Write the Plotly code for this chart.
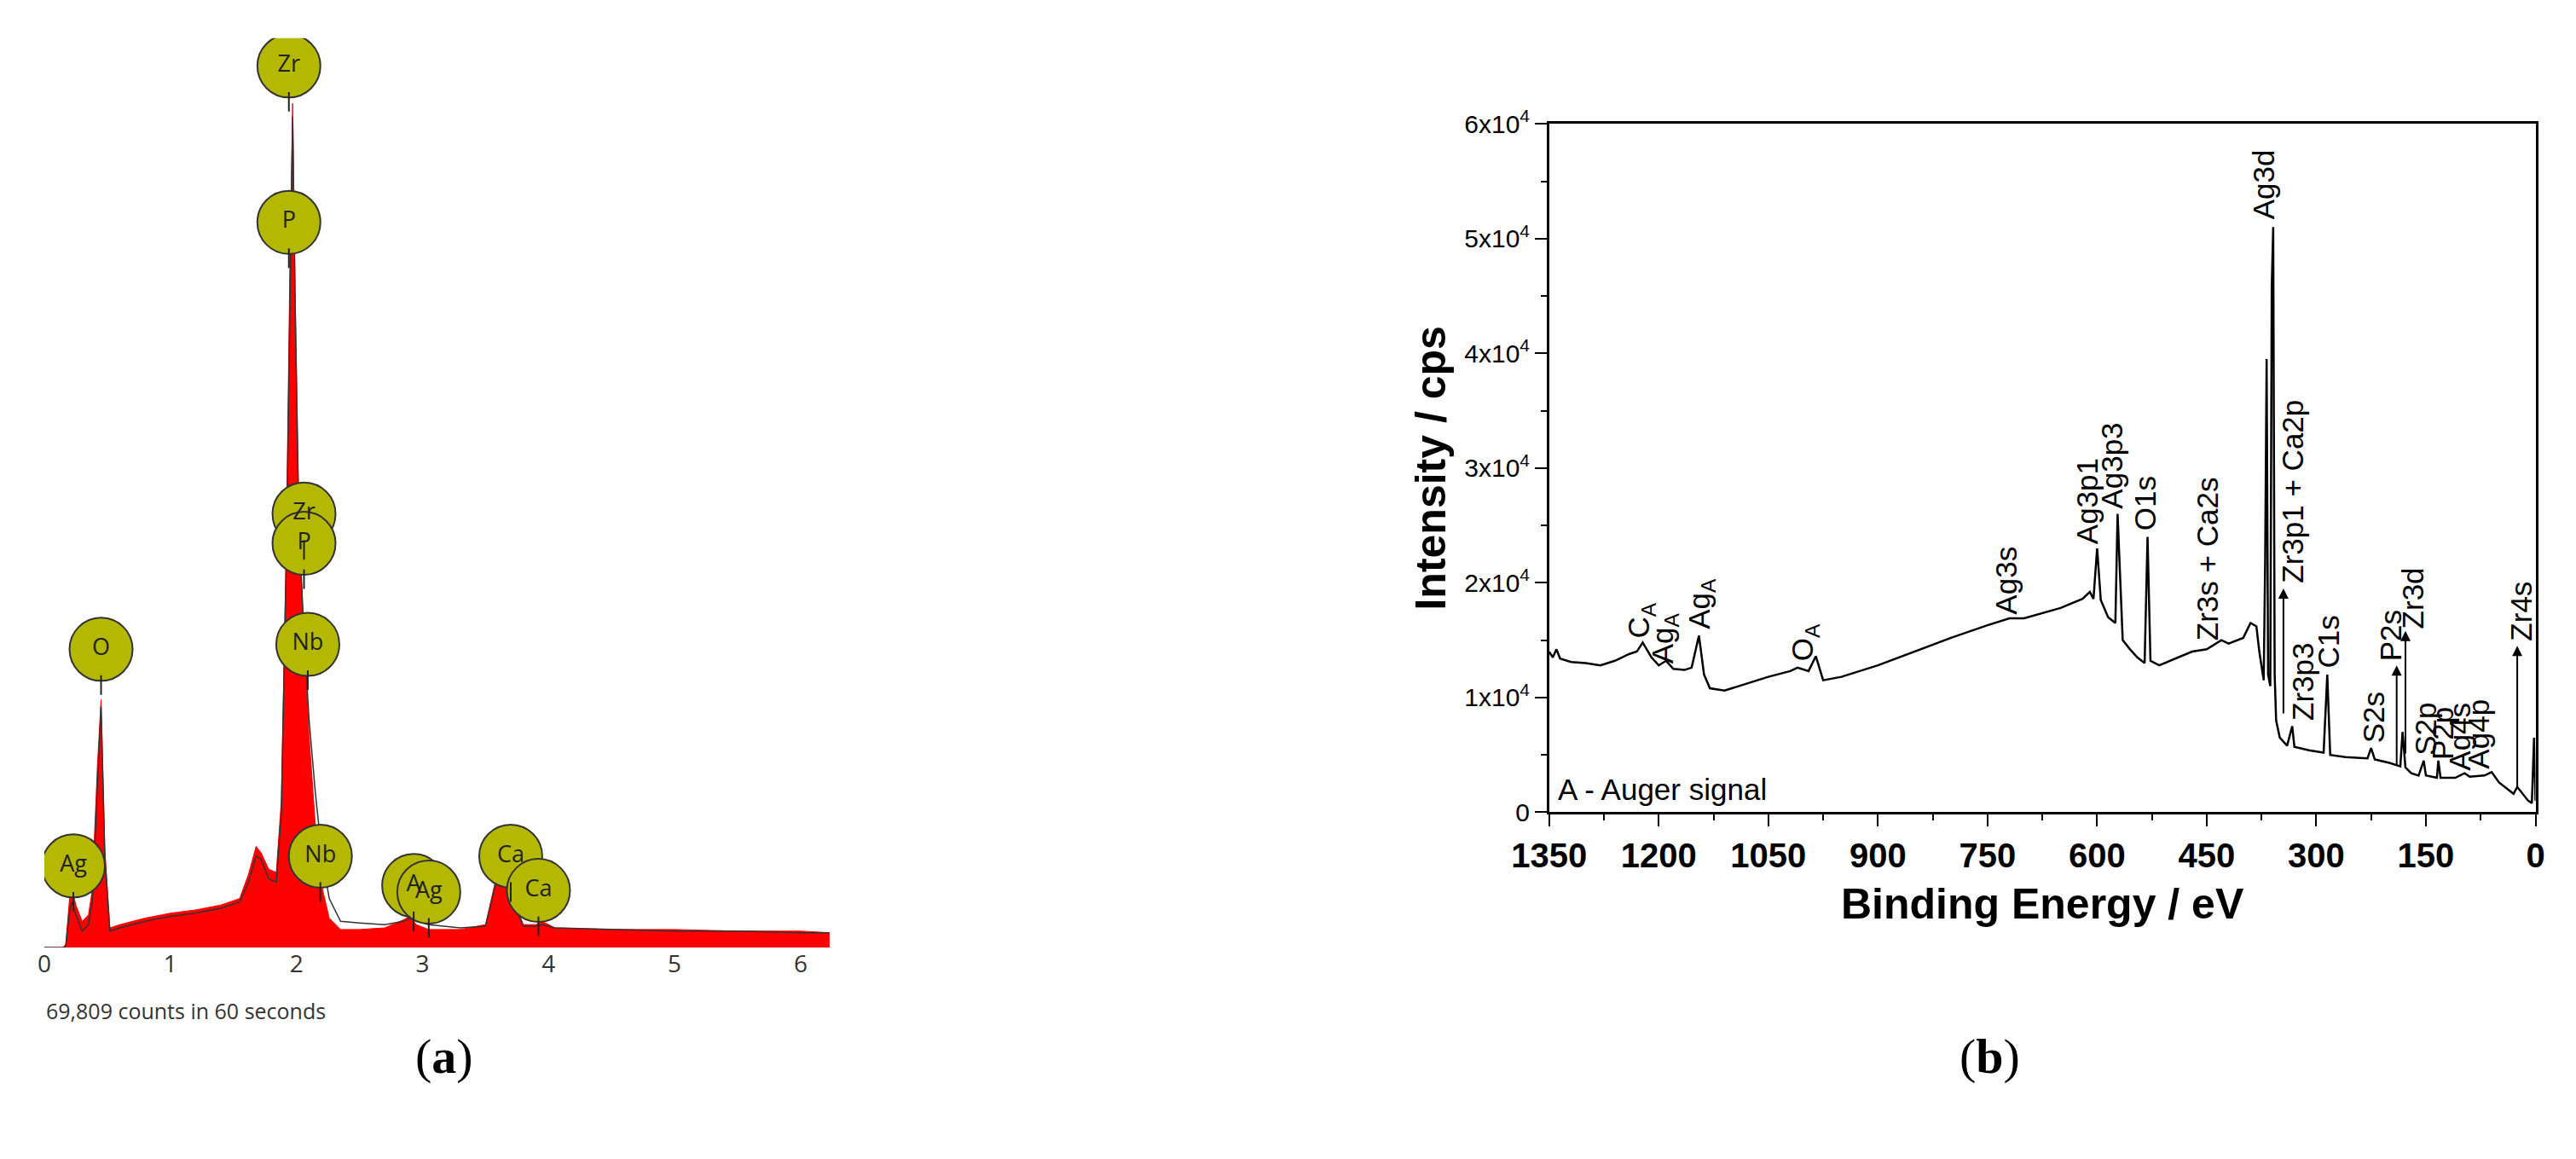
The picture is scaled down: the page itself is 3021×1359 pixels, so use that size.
import plotly.graph_objects as go

# ---- panel (a): EDS spectrum (relative counts) ----
eds_kev = [0.0, 0.15, 0.17, 0.2, 0.22, 0.25, 0.3, 0.35, 0.38, 0.42, 0.45, 0.48, 0.52, 0.6, 0.8, 1.0,
           1.2, 1.4, 1.55, 1.62, 1.68, 1.72, 1.78, 1.84, 1.88, 1.92, 1.95, 1.97, 1.99, 2.02, 2.06,
           2.1, 2.15, 2.2, 2.26, 2.35, 2.5, 2.7, 2.85, 2.9, 2.95, 3.05, 3.3, 3.5, 3.6, 3.65, 3.72,
           3.8, 3.9, 3.95, 4.05, 4.5, 5.0, 5.5, 6.0, 6.23]
eds_counts = [0, 0, 2, 30, 36, 26, 16, 20, 35, 110, 152, 60, 12, 14, 18, 21,
              23, 26, 30, 45, 62, 58, 48, 46, 90, 250, 430, 518, 400, 260, 190,
              130, 75, 38, 18, 11, 11, 12, 17, 19, 14, 11, 11, 14, 48, 55, 30,
              14, 14, 16, 12, 11, 11, 10, 10, 9]
eds_fit = [0, 0, 1, 22, 28, 20, 10, 14, 28, 100, 148, 55, 10, 12, 16, 19,
           21, 24, 28, 40, 56, 54, 42, 40, 82, 240, 420, 510, 395, 258, 192,
           140, 95, 58, 30, 16, 15, 14, 16, 18, 16, 14, 12, 13, 45, 52, 28,
           13, 13, 14, 12, 11, 10, 10, 9, 9]
eds_labels = ['Zr', 'P', 'Zr', 'P', 'Nb', 'Nb', 'Ag', 'O', 'A', 'Ag', 'Ca', 'Ca']
eds_label_x = [1.94, 1.94, 2.06, 2.06, 2.09, 2.19, 0.23, 0.45, 2.93, 3.05, 3.7, 3.92]
eds_label_y = [541, 445, 266, 248, 186, 56, 50, 183, 38, 34, 56, 35]

# ---- panel (b): XPS survey ----
be = [1350, 1345, 1340, 1335, 1320, 1300, 1280, 1260, 1240, 1230, 1222, 1210, 1200, 1190, 1180,
      1165, 1155, 1145, 1138, 1130, 1110, 1080, 1050, 1020, 1010, 995, 985, 975, 950, 900,
      850, 800, 750, 720, 700, 650, 620, 610, 605, 600, 595, 585, 575, 572, 565, 555, 545,
      535, 531, 527, 515, 500, 470, 450, 430, 420, 400, 390, 382, 378, 372, 370, 368, 366,
      363, 361, 359, 357, 355, 350, 340, 333, 330, 310, 300, 290, 285, 281, 260, 230, 225,
      220, 200, 185, 182, 178, 170, 160, 153, 150, 135, 133, 130, 110, 97, 90, 70, 60, 50,
      30, 25, 20, 10, 5, 2, 0]
cps = [14.0, 13.5, 14.2, 13.4, 13.1, 13.0, 12.8, 13.2, 13.8, 14.0, 14.8, 13.5, 12.8, 13.2, 12.5,
       12.4, 12.6, 15.4, 12.0, 10.8, 10.6, 11.2, 11.8, 12.3, 12.6, 12.3, 13.6, 11.5, 11.8, 12.8,
       14.0, 15.2, 16.3, 16.9, 16.9, 17.8, 18.6, 19.2, 18.6, 23.0, 18.5, 17.0, 16.5, 26.0, 15.0,
       14.2, 13.5, 13.0, 24.0, 13.2, 12.8, 13.2, 14.0, 14.2, 15.0, 14.7, 15.2, 16.5, 16.2, 14.0,
       11.5, 22.0, 39.5, 12.0, 11.0, 45.7, 51.0, 12.0, 8.0, 6.5, 5.8, 7.5, 5.7, 5.4, 5.3, 5.2,
       12.0, 5.0, 4.8, 4.7, 5.6, 4.6, 4.3, 4.0, 7.0, 3.9, 3.4, 3.2, 4.5, 3.2, 3.0, 4.5, 3.0,
       3.0, 3.4, 3.1, 3.2, 3.5, 2.6, 1.6, 2.2, 1.8, 1.0, 0.8, 6.5, 1.0]
peak_names = ['C<sub>A</sub>', 'Ag<sub>A</sub>', 'Ag<sub>A</sub>', 'O<sub>A</sub>', 'Ag3s', 'Ag3p1',
              'Ag3p3', 'O1s', 'Zr3s + Ca2s', 'Ag3d', 'Zr3p1 + Ca2p', 'Zr3p3', 'C1s', 'S2s',
              'P2s', 'Zr3d', 'S2p', 'P2p', 'Ag4s', 'Ag4p', 'Zr4s']
peak_be = [1225, 1192, 1142, 1000, 725, 614, 580, 535, 450, 372, 333, 318, 283, 222,
           198, 168, 150, 128, 104, 78, 20]
peak_y = [15.0, 12.8, 15.8, 13.0, 17.1, 23.2, 26.3, 24.4, 14.8, 51.5, 19.8, 7.8, 12.4, 5.9,
          13.0, 15.8, 4.8, 4.4, 3.5, 3.6, 14.8]
arrow_be = [345, 190, 178, 25]
arrow_from = [8.5, 4.0, 5.0, 2.0]
arrow_to = [19.5, 12.8, 15.8, 14.5]

OLIVE = '#b4b800'
fig = go.Figure()

fig.add_trace(go.Scatter(x=eds_kev, y=eds_counts, mode='lines', fill='tozeroy',
                         fillcolor='#ff0000', line=dict(color='#ff0000', width=1),
                         xaxis='x', yaxis='y', showlegend=False))
fig.add_trace(go.Scatter(x=eds_kev, y=eds_fit, mode='lines',
                         line=dict(color='#333333', width=1.5),
                         xaxis='x', yaxis='y', showlegend=False))

# label pins
pin_x, pin_y = [], []
for lx, ly in zip(eds_label_x, eds_label_y):
    pin_x += [lx, lx, None]
    pin_y += [ly - 16, ly - 28, None]
fig.add_trace(go.Scatter(x=eds_label_x, y=eds_label_y, mode='markers+text', text=eds_labels,
                         textposition='middle center',
                         textfont=dict(family='Open Sans', size=27, color='#222222'),
                         marker=dict(size=74, color=OLIVE, line=dict(color='#333333', width=2)),
                         xaxis='x', yaxis='y', showlegend=False))
fig.add_trace(go.Scatter(x=pin_x, y=pin_y, mode='lines', line=dict(color='#222222', width=2),
                         xaxis='x', yaxis='y', showlegend=False))

fig.add_trace(go.Scatter(x=be, y=[v * 1000 for v in cps], mode='lines',
                         line=dict(color='black', width=2.5),
                         xaxis='x2', yaxis='y2', showlegend=False))

annotations = []
for name, bx, by in zip(peak_names, peak_be, peak_y):
    annotations.append(dict(x=bx, y=by * 1000, xref='x2', yref='y2', text=name, textangle=-90,
                            showarrow=False, xanchor='center', yanchor='bottom',
                            font=dict(family='Liberation Sans', size=35, color='black')))
for bx, y0, y1 in zip(arrow_be, arrow_from, arrow_to):
    annotations.append(dict(x=bx, y=y1 * 1000, ax=bx, ay=y0 * 1000, xref='x2', yref='y2',
                            axref='x2', ayref='y2', text='', showarrow=True, arrowhead=2,
                            arrowsize=1.2, arrowwidth=2, arrowcolor='black'))
annotations.append(dict(x=1340, y=2000, xref='x2', yref='y2', text='A - Auger signal',
                        showarrow=False, xanchor='left', yanchor='middle',
                        font=dict(family='Liberation Sans', size=35, color='black')))
annotations.append(dict(x=0.0, y=0.125, xref='paper', yref='paper',
                        text='69,809 counts in 60 seconds', showarrow=False, xanchor='left',
                        yanchor='middle', font=dict(family='Open Sans', size=25, color='#333333')))
annotations.append(dict(x=0.146, y=0.058, xref='paper', yref='paper', text='(<b>a</b>)',
                        showarrow=False, font=dict(family='Liberation Serif', size=58, color='black')))
annotations.append(dict(x=0.782, y=0.058, xref='paper', yref='paper', text='(<b>b</b>)',
                        showarrow=False, font=dict(family='Liberation Serif', size=58, color='black')))

ytick_vals = [0, 10000, 20000, 30000, 40000, 50000, 60000]
ytick_text = ['0'] + ['%dx10<sup>4</sup>' % i for i in range(1, 7)]

fig.update_layout(
    width=3021, height=1359, margin=dict(l=0, r=0, t=0, b=0),
    paper_bgcolor='white', plot_bgcolor='white',
    annotations=annotations,
    xaxis=dict(domain=[0.0, 0.3105], range=[0, 6.23], tickvals=[0, 1, 2, 3, 4, 5, 6],
               showgrid=False, zeroline=False, showline=False, ticks='',
               tickfont=dict(family='Open Sans', size=28, color='#333333')),
    yaxis=dict(domain=[0.181, 0.988], range=[0, 558], visible=False),
    xaxis2=dict(domain=[0.595, 0.985], range=[1350, 0], anchor='y2',
                tickvals=[1350, 1200, 1050, 900, 750, 600, 450, 300, 150, 0],
                minor=dict(dtick=75, ticks='outside', ticklen=7, tickcolor='black'),
                ticks='outside', ticklen=14, tickwidth=2, tickcolor='black',
                showline=True, linewidth=2.5, linecolor='black', mirror=True,
                showgrid=False, zeroline=False,
                tickfont=dict(family='Liberation Sans', size=40, color='black', weight='bold'),
                title=dict(text='<b>Binding Energy / eV</b>', standoff=18,
                           font=dict(family='Liberation Sans', size=50, color='black'))),
    yaxis2=dict(domain=[0.301, 0.912], range=[0, 60000], anchor='x2',
                tickvals=ytick_vals, ticktext=ytick_text,
                minor=dict(dtick=5000, ticks='outside', ticklen=7, tickcolor='black'),
                ticks='outside', ticklen=14, tickwidth=2, tickcolor='black',
                showline=True, linewidth=2.5, linecolor='black', mirror=True,
                showgrid=False, zeroline=False,
                tickfont=dict(family='Liberation Sans', size=30, color='black'),
                title=dict(text='<b>Intensity / cps</b>', standoff=6,
                           font=dict(family='Liberation Sans', size=50, color='black'))),
)

fig.write_html("out.html")
